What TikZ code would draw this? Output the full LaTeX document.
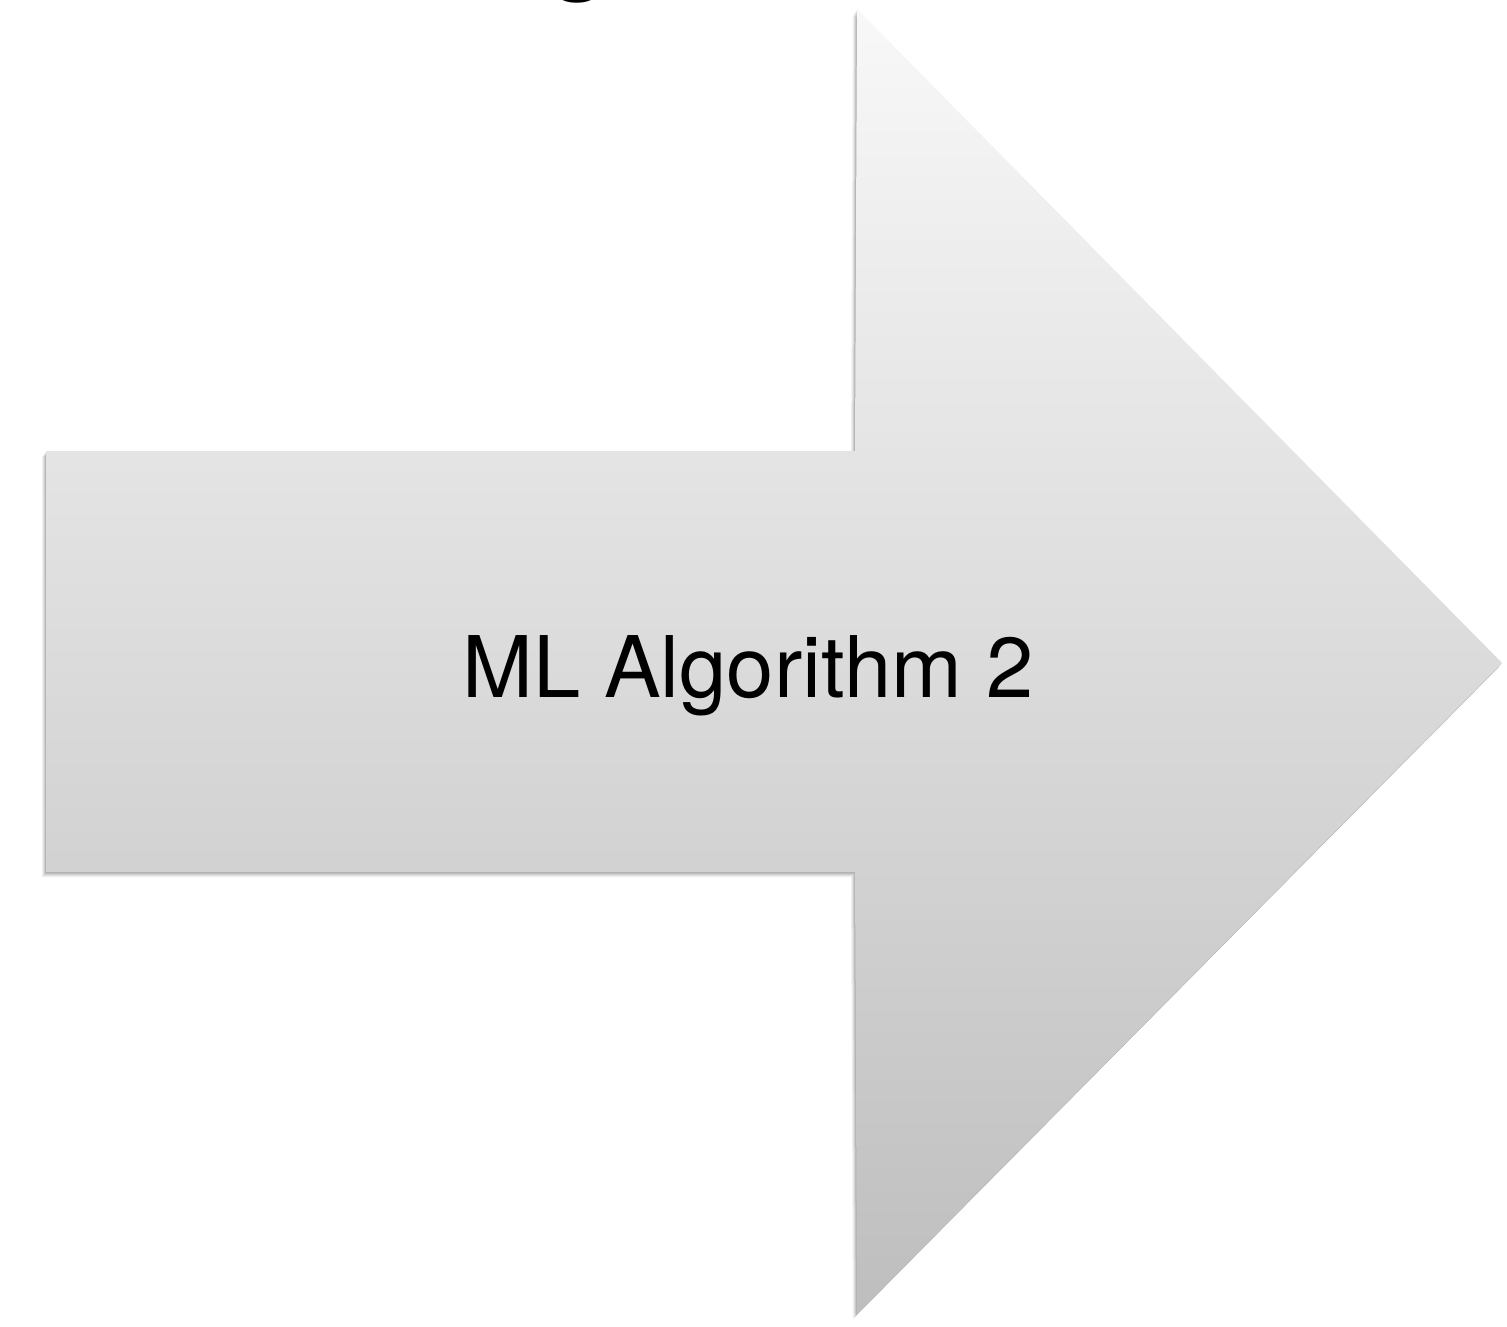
\documentclass[tikz,border=0pt]{standalone}
\usepackage{fontspec}
\setmainfont{TeX Gyre Heros}
\begin{document}
\begin{tikzpicture}[x=1pt,y=-1pt,
  arrowfill/.style={top color={rgb,255:red,248;green,248;blue,248}, bottom color={rgb,255:red,190;green,190;blue,190}},
  shadowcopy/.style={fill=black, fill opacity=0.06, draw=none},
  label/.style={inner sep=0pt, font=\fontsize{85}{100}\selectfont, text=black, anchor=base}]
\useasboundingbox (0,0) rectangle (1507,1326);
\fill[white] (0,0) rectangle (1507,1326);
% title fragment cut off at the top
\node[label, font=\fontsize{118}{130}\selectfont] (title) at (579,-23) {g};
% arrow corners
\coordinate (sTL) at (46,451);
\coordinate (hT) at (857,9);
\coordinate (tip) at (1502,663);
\coordinate (hB) at (857,1314);
\coordinate (sBL) at (46,872);
% soft shadow
\foreach \dx/\dy in {-4/5,-3/4,-2/3,-1.5/2,-1/1.5,-0.5/1} {
  \fill[shadowcopy] ([shift={(\dx,\dy)}]sTL) -- ([shift={(\dx,\dy)}]855,451) -- ([shift={(\dx,\dy)}]hT) -- ([shift={(\dx,\dy)}]tip) -- ([shift={(\dx,\dy)}]hB) -- ([shift={(\dx,\dy)}]855,872) -- ([shift={(\dx,\dy)}]sBL) -- cycle;
}
% arrow
\path[arrowfill] (sTL) -- (855,451) -- (hT) -- (tip) -- (hB) -- (855,872) -- (sBL) -- cycle;
\node[label] (algo) at (748,697) {ML Algorithm 2};
\end{tikzpicture}
\end{document}
